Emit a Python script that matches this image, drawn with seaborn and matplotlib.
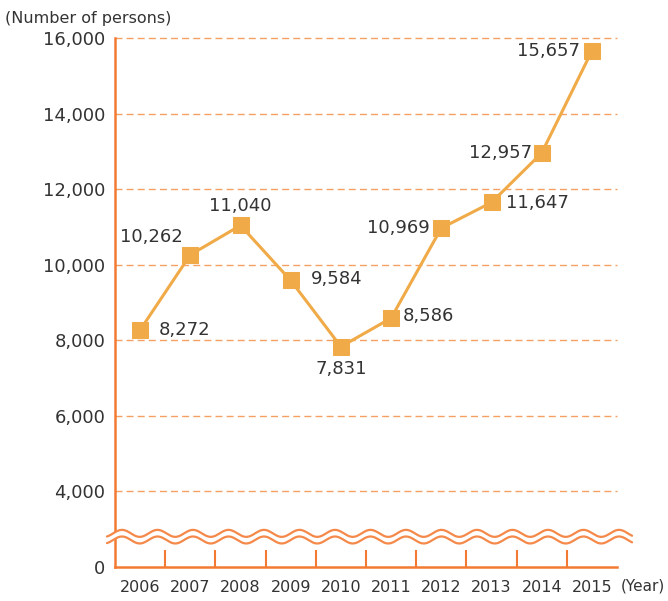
import numpy as np
import pandas as pd
import matplotlib
matplotlib.use("Agg")
import matplotlib.pyplot as plt
import seaborn as sns

# Data
years = ["2006", "2007", "2008", "2009", "2010", "2011", "2012", "2013", "2014", "2015"]
persons = [8272, 10262, 11040, 9584, 7831, 8586, 10969, 11647, 12957, 15657]
y_ticks = [4000, 6000, 8000, 10000, 12000, 14000, 16000]

# the axis is broken below 4,000: the "0" sits where 2,000 would be
ZERO_POS = 2000

LINE_COLOR = "#f0aa48"
AXIS_COLOR = "#f27a32"
GRID_COLOR = "#f5a062"
WAVE_COLOR = "#f4894a"
TEXT_COLOR = "#333333"

# label offsets in pixels (dx, dy, ha)
label_offsets = [
    (19, 0, "left"), (-8, 18, "right"), (0, 19, "center"), (20, 1, "left"),
    (0, -22, "center"), (12, 2, "left"), (-12, 0, "right"), (15, -1, "left"),
    (-10, 0, "right"), (-12, 0, "right"),
]


def main():
    sns.set_style("white")
    plt.rcParams["font.family"] = ["DejaVu Sans"]

    df = pd.DataFrame({"pos": np.arange(len(years)), "persons": persons})

    fig = plt.figure(figsize=(6.68, 6.01), dpi=100)
    ax = fig.add_axes([115 / 668, 34 / 601, 502 / 668, 529 / 601])

    sns.lineplot(data=df, x="pos", y="persons", ax=ax, color=LINE_COLOR,
                 linewidth=2.2, marker="s", markersize=11,
                 markeredgecolor=LINE_COLOR, markerfacecolor=LINE_COLOR, zorder=5)

    ax.set_xlim(-0.5, len(years) - 0.5)
    ax.set_ylim(ZERO_POS, 16000)

    # y axis
    ax.set_yticks([ZERO_POS] + y_ticks)
    ax.set_yticklabels(["0"] + [f"{v:,}" for v in y_ticks])
    for v in y_ticks:
        ax.axhline(v, color=GRID_COLOR, linewidth=1, linestyle=(0, (5, 3)),
                   zorder=1, clip_on=False)
    ax.tick_params(axis="y", length=0, pad=7, labelsize=13, labelcolor=TEXT_COLOR)

    # x axis: labels at centres, ticks at boundaries
    ax.set_xticks(df["pos"])
    ax.set_xticklabels(years)
    ax.set_xticks(np.arange(0.5, len(years) - 1, 1), minor=True)
    ax.tick_params(axis="x", which="major", length=0, pad=9, labelsize=11.5,
                   labelcolor=TEXT_COLOR)
    ax.tick_params(axis="x", which="minor", bottom=True, direction="in", length=12,
                   width=1.5, color=AXIS_COLOR)

    ax.set_xlabel("")
    ax.set_ylabel("")
    for side in ["top", "right"]:
        ax.spines[side].set_visible(False)
    for side in ["left", "bottom"]:
        ax.spines[side].set_color(AXIS_COLOR)
        ax.spines[side].set_linewidth(1.8)

    # axis break waves
    px = 50.2  # pixels per category
    xs = np.linspace(-0.66, 9.8, 600)
    xpix = 115 + (xs + 0.5) * px
    amp = 3.5 / 37.75 * 1000
    wave = amp * np.cos(2 * np.pi * (xpix - 122) / 35.5)
    upper = 2890 + wave
    lower = 2715 + wave
    ax.fill_between(xs, lower, upper, color="white", zorder=6, clip_on=False,
                    linewidth=0)
    ax.plot(xs, upper, color=WAVE_COLOR, linewidth=1.6, zorder=7, clip_on=False)
    ax.plot(xs, lower, color=WAVE_COLOR, linewidth=1.6, zorder=7, clip_on=False)

    # value labels
    for i, (v, (dx, dy, ha)) in enumerate(zip(persons, label_offsets)):
        ax.annotate(f"{v:,}", (i, v), xytext=(dx, dy), textcoords="offset pixels",
                    ha=ha, va="center", fontsize=13, color=TEXT_COLOR, zorder=8)

    fig.text(5 / 668, 1 - 18 / 601, "(Number of persons)", ha="left", va="center",
             fontsize=11.5, color=TEXT_COLOR)
    fig.text(665 / 668, 1 - 586 / 601, "(Year)", ha="right", va="center",
             fontsize=11, color=TEXT_COLOR)

    fig.savefig("out.png", dpi=100)


if __name__ == "__main__":
    main()
